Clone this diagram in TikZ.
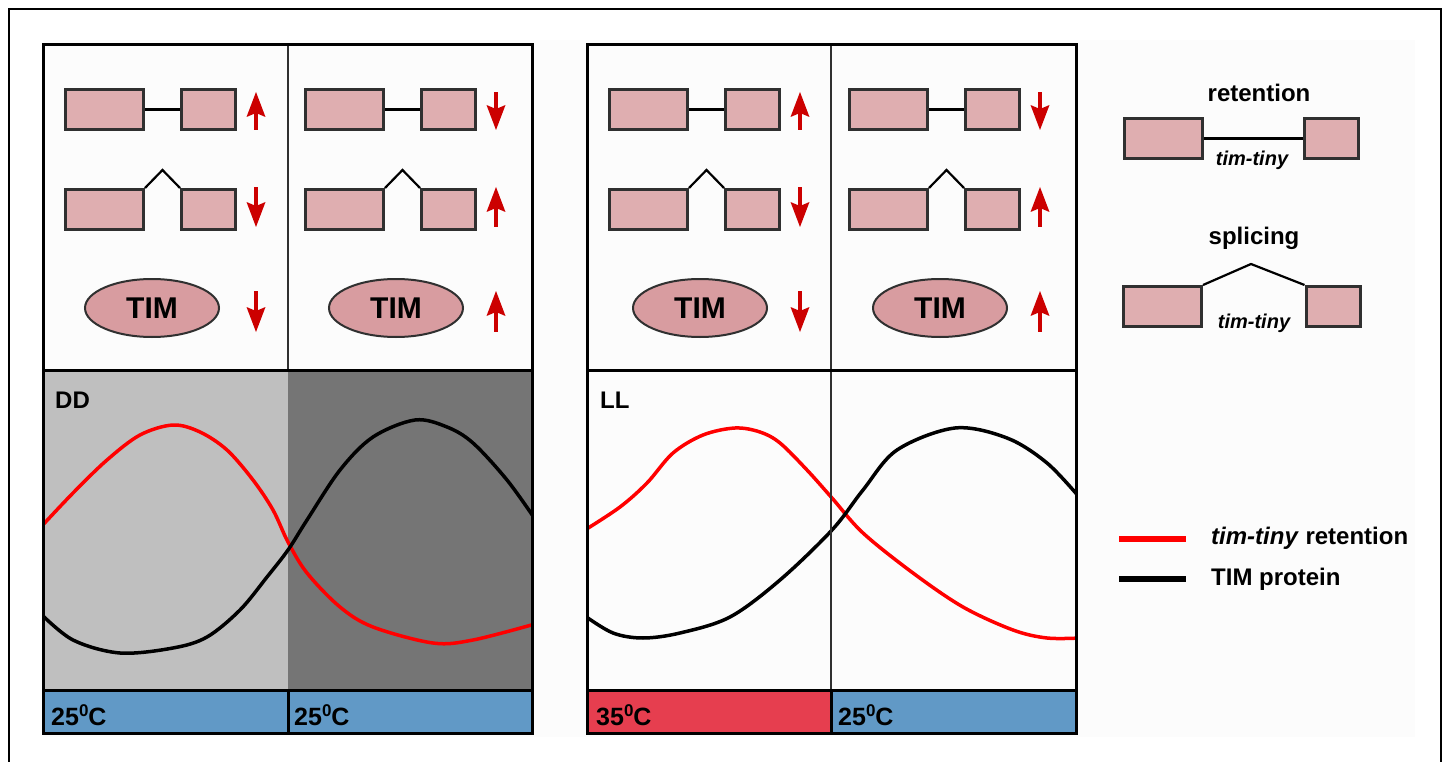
\documentclass[tikz,border=0pt]{standalone}
\usepackage{fontspec}
\setmainfont{Liberation Sans}
\usetikzlibrary{shapes.geometric}
\definecolor{exon}{HTML}{DFAEB0}
\definecolor{timfill}{HTML}{D89CA0}
\definecolor{edge}{HTML}{303030}
\definecolor{arrowred}{HTML}{CC0000}
\definecolor{ddlight}{HTML}{BFBFBF}
\definecolor{dddark}{HTML}{757575}
\definecolor{tblue}{HTML}{6199C6}
\definecolor{tred}{HTML}{E63E4F}
\definecolor{curvered}{HTML}{FF0000}
\definecolor{paper}{HTML}{FCFCFC}
\newcommand\fs[1]{\fontsize{#1}{#1}\selectfont}
\newcommand\degz{\raisebox{8.5pt}{\fs{17}0}}
\newcommand\aup[3]{%
  \fill[arrowred] (#1-1.9,#3) rectangle (#1+1.9,#2+20);
  \fill[arrowred] (#1-9.5,#2+25) -- (#1,#2) -- (#1+9.5,#2+25) -- (#1,#2+21) -- cycle;}
\newcommand\adn[3]{%
  \fill[arrowred] (#1-1.9,#2) rectangle (#1+1.9,#3-20);
  \fill[arrowred] (#1-9.5,#3-25) -- (#1,#3) -- (#1+9.5,#3-25) -- (#1,#3-21) -- cycle;}
\newcommand\halfpanel[6]{%
  \begin{scope}[xshift=#2pt]
    \node[exonbig] (#1a) at (104.5,109.5) {};
    \node[exonsm]  (#1b) at (208.5,109.5) {};
    \draw[intron] (#1a.east) -- (#1b.west);
    \node[exonbig] (#1c) at (104.5,209.5) {};
    \node[exonsm]  (#1d) at (208.5,209.5) {};
    \draw[intron] (#1c.north east) -- (162.5,170) -- (#1d.north west);
    \node[timnode] (#1e) at (#6,308) {TIM};
    #3{256}{92}{130}
    #4{256}{187}{227}
    #5{256}{291}{332}
  \end{scope}}
\begin{document}
\begin{tikzpicture}[x=1pt,y=-1pt,
  exonbig/.style={draw=edge,line width=3pt,fill=exon,minimum width=78pt,minimum height=40pt,inner sep=0pt,rectangle},
  exonsm/.style={draw=edge,line width=3pt,fill=exon,minimum width=54pt,minimum height=40pt,inner sep=0pt,rectangle},
  intron/.style={black,line width=2.2pt},
  timnode/.style={ellipse,draw=edge,line width=2pt,fill=timfill,minimum width=134pt,minimum height=58pt,inner sep=0pt,font=\fs{30}\bfseries},
  panelframe/.style={black,line width=3pt},
  thin/.style={edge,line width=1.3pt},
  redcurve/.style={curvered,line width=3.5pt,line cap=round},
  blackcurve/.style={black,line width=3.5pt,line cap=round},
  lbl/.style={font=\fs{24}\bfseries,inner sep=0pt},
  tmp/.style={font=\fs{25}\bfseries,inner sep=0pt},
  tinylbl/.style={font=\fs{20}\bfseries\itshape,inner sep=0pt}
  ]
\useasboundingbox (0,0) rectangle (1446,762);
\fill[white] (0,0) rectangle (1446,762);
\fill[paper] (43,40) rectangle (1415,737);
\draw[black,line width=2pt] (9,762) -- (9,9) -- (1441,9) -- (1441,762);

% ---------- left panel (DD) ----------
\fill[ddlight] (43,370) rectangle (288,690);
\fill[dddark] (288,370) rectangle (532,690);
\fill[tblue] (43,690) rectangle (532,733);
\begin{scope}
  \clip (43,370) rectangle (532,690);
  \draw[redcurve] plot[smooth,tension=0.55] coordinates {(40,528) (73,493) (107,460) (140,435) (173,425) (200,432) (227,450) (253,480) (273,510) (288,542) (307,573) (340,607) (373,627) (433,643) (473,640) (535,624)};
  \draw[blackcurve] plot[smooth,tension=0.55] coordinates {(40,613) (73,640) (120,653) (173,648) (207,637) (240,610) (267,577) (288,550) (307,520) (340,470) (373,437) (415,420) (447,427) (473,443) (507,480) (535,519)};
\end{scope}
\draw[thin] (288,45) -- (288,370);
\draw[panelframe] (43,370) -- (532,370);
\draw[panelframe] (43,690) -- (532,690);
\draw[panelframe] (288,690) -- (288,733);
\draw[panelframe] (43,45) rectangle (532,733);
\node[lbl,anchor=base west] (dd) at (55,408) {DD};
\node[tmp,anchor=base west] (t1) at (51,725) {25\degz C};
\node[tmp,anchor=base west] (t2) at (294,725) {25\degz C};
\halfpanel{La}{0}{\aup}{\adn}{\adn}{152}
\halfpanel{Lb}{240}{\adn}{\aup}{\aup}{156}

% ---------- right panel (LL) ----------
\fill[tred] (587,690) rectangle (831,733);
\fill[tblue] (831,690) rectangle (1076,733);
\begin{scope}
  \clip (587,370) rectangle (1076,690);
  \draw[redcurve] plot[smooth,tension=0.55] coordinates {(585,530) (620,507) (647,483) (673,453) (703,435) (735,428) (760,432) (780,443) (807,470) (832,498) (863,533) (913,573) (963,607) (1013,630) (1047,638) (1080,638)};
  \draw[blackcurve] plot[smooth,tension=0.55] coordinates {(585,616) (613,633) (643,638) (680,633) (730,617) (780,580) (832,530) (863,490) (897,450) (955,428) (1007,438) (1047,463) (1080,498)};
\end{scope}
\draw[thin] (831,45) -- (831,690);
\draw[panelframe] (587,370) -- (1076,370);
\draw[panelframe] (587,690) -- (1076,690);
\draw[panelframe] (831,690) -- (831,733);
\draw[panelframe] (587,45) rectangle (1076,733);
\node[lbl,anchor=base west] (ll) at (600,408) {LL};
\node[tmp,anchor=base west] (t3) at (596,725) {35\degz C};
\node[tmp,anchor=base west] (t4) at (838,725) {25\degz C};
\halfpanel{Ra}{544}{\aup}{\adn}{\adn}{156}
\halfpanel{Rb}{784}{\adn}{\aup}{\aup}{156}

% ---------- legend ----------
\node[lbl,anchor=base] (ret) at (1259,102) {retention};
\node[exonbig] (g1) at (1163.5,138.5) {};
\node[exonsm] (g2) at (1331,138.5) {};
\draw[intron] (g1.east) -- (g2.west);
\node[tinylbl,anchor=base] (tt1) at (1252,166) {tim-tiny};
\node[lbl,anchor=base] (spl) at (1254,245) {splicing};
\node[exonbig] (g3) at (1162.5,306.5) {};
\node[exonsm] (g4) at (1333,306.5) {};
\draw[intron] (g3.north east) -- (1251,264) -- (g4.north west);
\node[tinylbl,anchor=base] (tt2) at (1254,328) {tim-tiny};

\coordinate (k1a) at (1119,539);
\coordinate (k1b) at (1186,539);
\coordinate (k2a) at (1119,579);
\coordinate (k2b) at (1186,579);
\draw[curvered,line width=6pt] (k1a) -- (k1b);
\draw[black,line width=6pt] (k2a) -- (k2b);
\node[lbl,anchor=base west] (lg1) at (1211,544) {\textit{tim-tiny} retention};
\node[lbl,anchor=base west] (lg2) at (1211,585) {TIM protein};
\end{tikzpicture}
\end{document}
